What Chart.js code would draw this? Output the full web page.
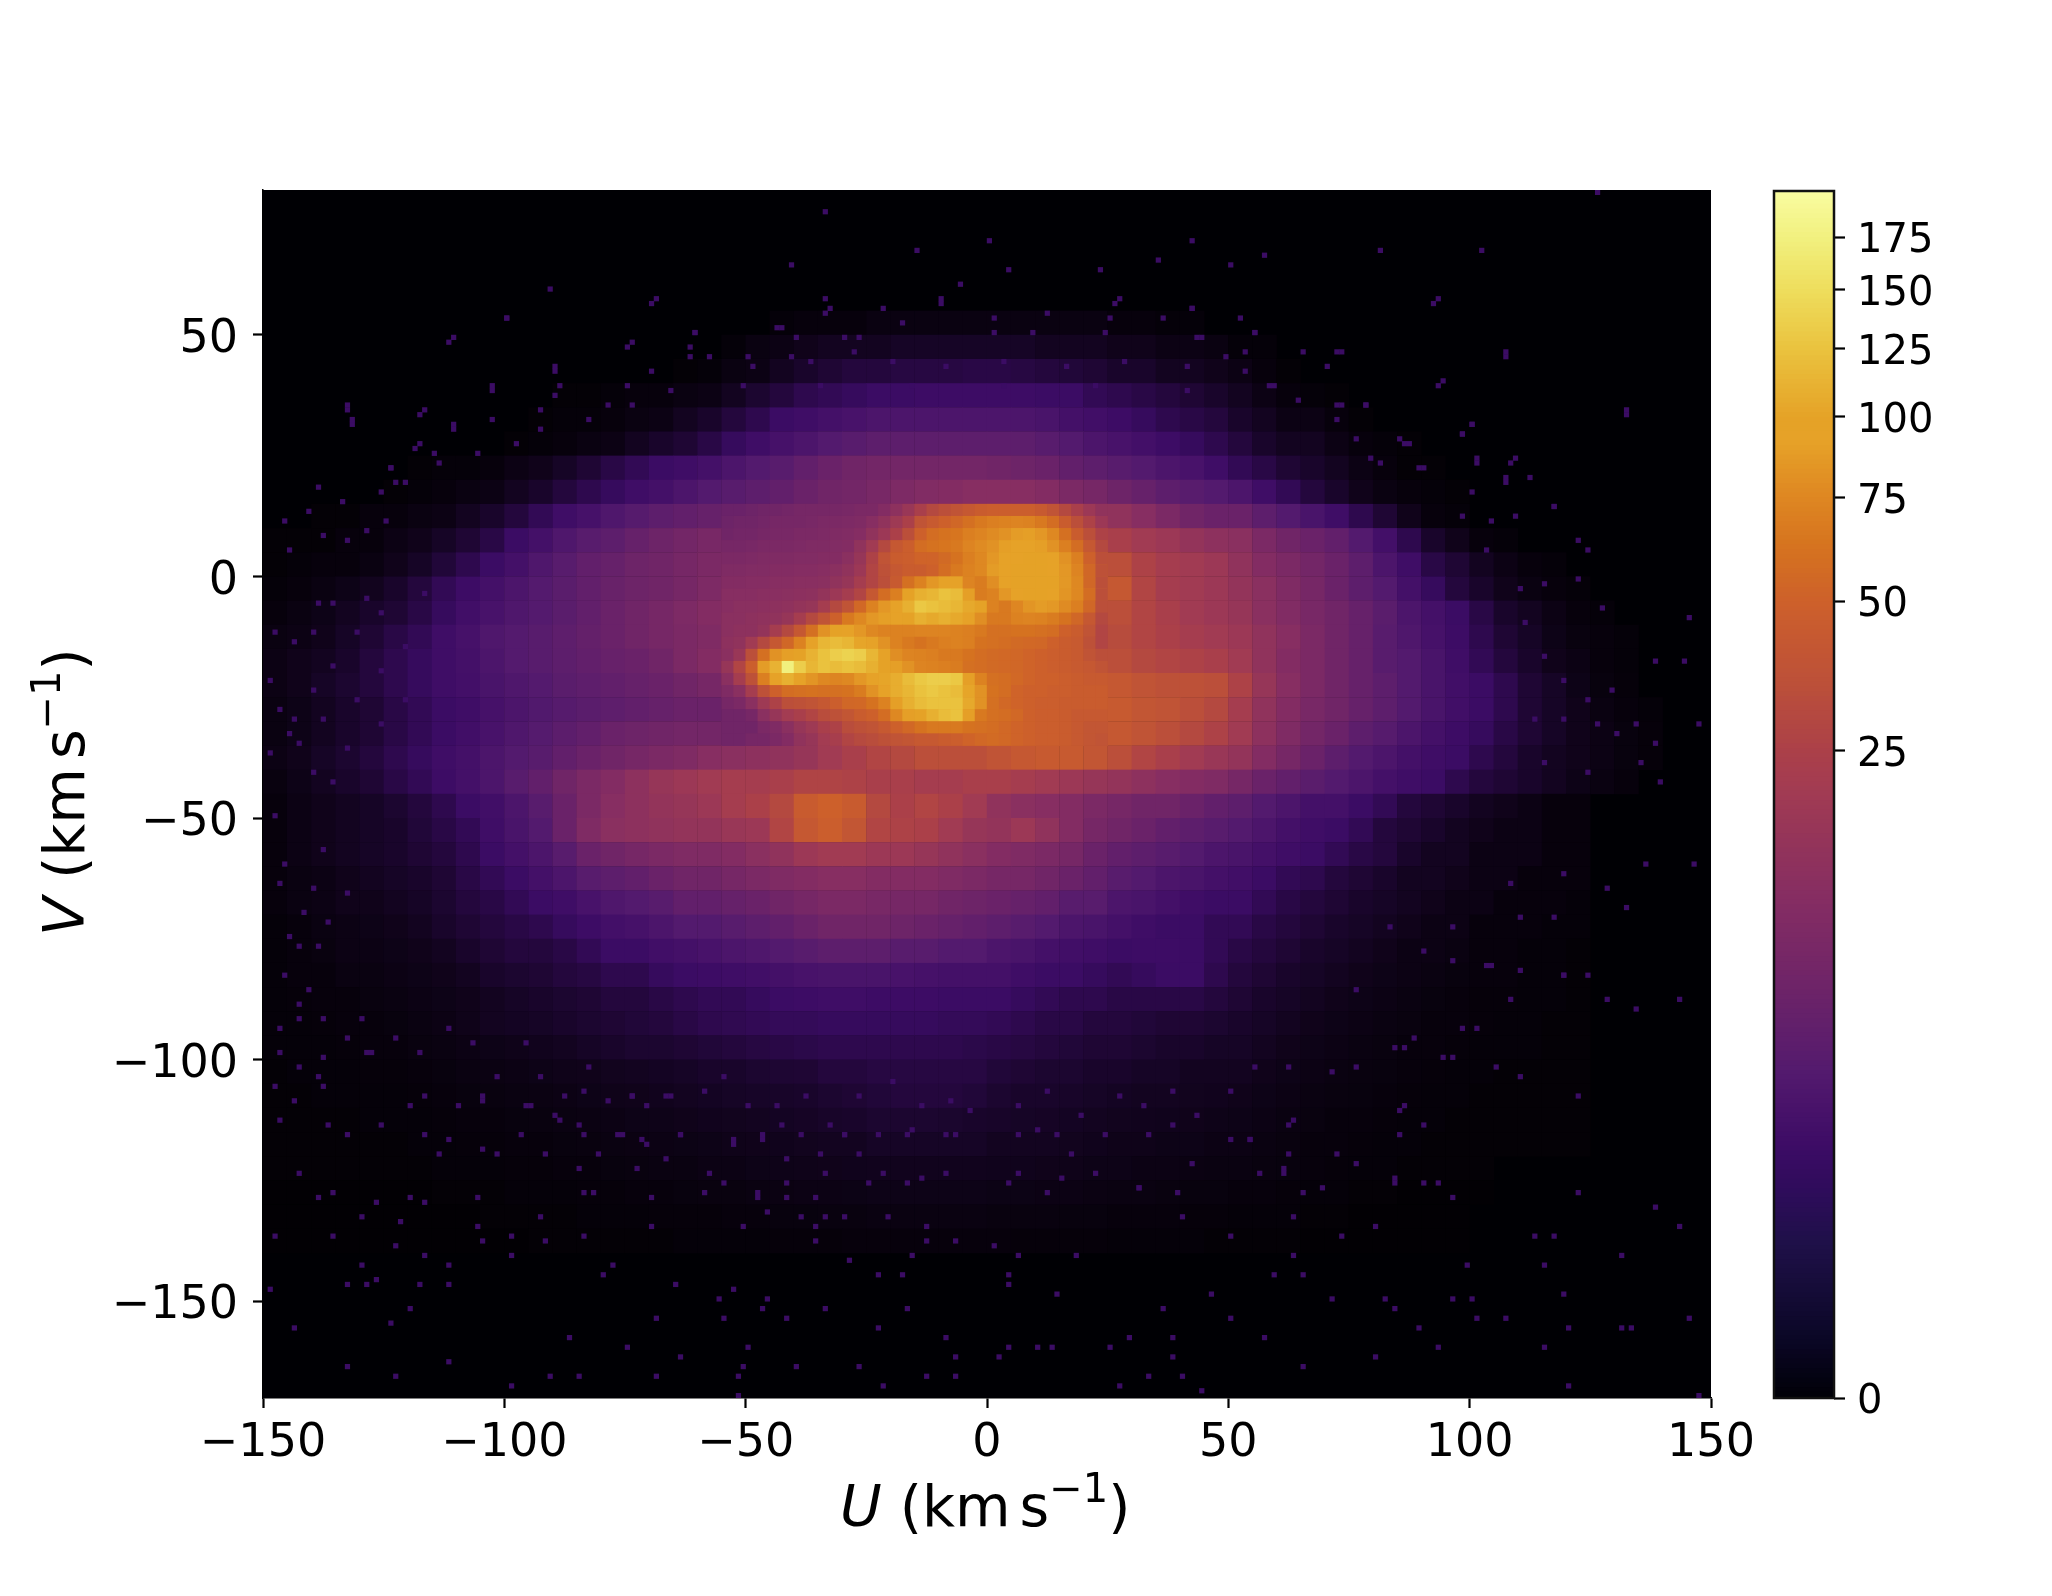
<!DOCTYPE html>
<html>
<head>
<meta charset="utf-8">
<script src="https://cdn.jsdelivr.net/npm/chart.js@4"></script>
<style>
  html, body { margin: 0; background: #fff; }
  canvas { position: absolute; left: 0; top: 0; }
</style>
</head>
<body>
<canvas id="uv-canvas" width="2052" height="1596"></canvas>
<canvas id="cb-canvas" width="2052" height="1596"></canvas>
<script>
// mean counts per 5 km/s bin, rows from V=77.5 downwards, columns from U=-147.5
const baseRows = [
  [], [], [], [], [],
  [0,0,0,0,0, 0,0,0,0,0, 0,0,0,0,0, 0,0,0,0,0, 0,.03,.05,.05,.05, .08,.08,.08,.08,.08, .08,.08,.08,.08,.08, .05,.05,.03,.03,0],
  [0,0,0,0,0, 0,0,0,0,0, 0,0,0,0,0, 0,0,0,0,.03, .08,.1,.15,.2,.2, .2,.25,.25,.25,.25, .25,.25,.2,.2,.2, .15,.15,.1,.1,.08, .03,.03,0,0,0],
  [0,0,0,0,0, 0,0,0,0,0, 0,0,0,0,0, 0,0,.02,.03,.08, .1,.2,.3,.4,.5, .5,.55,.55,.55,.6, .6,.55,.5,.45,.4, .3,.3,.2,.2,.15, .1,.05,.02,0,0],
  [0,0,0,0,0, 0,0,0,0,0, 0,0,.02,.02,.03, .05,.05,.08,.1,.2, .35,.5,.7,.8,.9, 1,1,1.1,1.1,1.1, 1.1,1.1,1,1,.8, .7,.6,.5,.4,.3, .2,.1,.05,.03,.02],
  [0,0,0,0,0, 0,0,0,0,0, 0,.02,.03,.03,.05, .08,.1,.2,.3,.5, .7,1,1.2,1.5,1.7, 2,2,2,2,2, 2,2,1.8,1.5,1.3, 1.1,.9,.7,.6,.5, .3,.2,.1,.1,.05, .02,0,0,0,0],
  [0,0,0,0,0, 0,0,0,0,0, .02,.03,.05,.08,.1, .2,.3,.4,.6,.9, 1.2,1.6,2,2.5,3, 3.5,3.5,3.5,3.5,3.5, 3.5,3.5,3,2.5,2, 1.7,1.4,1.1,.9,.7, .5,.3,.2,.2,.1, .05,.03,.02,0,0],
  [0,0,0,0,0, 0,.02,.03,.03,.05, .1,.15,.25,.4,.6, .8,1,1.2,1.5,2, 2.5,3,4,5,6, 6.5,6.5,6.5,6.5,6.5, 6,5.5,5,4,3.5, 3,2.5,2,1.7,1.2, .8,.6,.4,.3,.2, .1,.05,.02,.02,0],
  [0,0,0,0,0, .02,.03,.05,.08,.1, .2,.3,.5,.7,.9, 1.2,1.5,2,2.5,3, 3.5,4,5,6,6.5, 7.5,8.5,9.5,10,11, 11,11,10,8,7, 5.5,4.5,3.5,3,2.5, 2,1.2,.8,.5,.3, .15,.08,.05,.03,.02],
  [0,0,.02,.02,.05, .05,.08,.1,.2,.3, .5,.8,1.2,1.6,2.2, 2.8,3.5,4,4.5,5, 5.5,6,6.5,7,7.5, 12,16,24,30,36, 42,36,30,22,16, 14,11,8,6,5, 5,3.5,2.5,1.8,1.2, .7,.4,.15,.05,.03],
  [.02,.02,.02,.05,.05, .1,.15,.25,.4,.6, 1,1.5,2.2,3,3.5, 4.5,5.5,6.5,7.5,8.5, 9,10,11,13,15, 18,30,45,60,70, 80,85,85,60,42, 24,20,18,15,13, 12,8,6,5,4, 2.5,1.4,.7,.3,.15, .05,.03],
  [.02,.03,.05,.05,.08, .15,.25,.45,.7,1, 1.5,2.2,3,4,4.5, 5.5,6,7,8,9, 10,11,12,14,18, 34,46,60,70,75, 95,100,105,95,70, 34,26,22,20,18, 14,10,8,6.5,5, 3.5,2,1.2,.6,.4, .2,.1,.05,.03,0],
  [.03,.05,.08,.12,.18, .3,.5,.8,1.1,1.5, 2,2.6,3.2,4,4.8, 5.5,6,7,8.5,10, 11,12,14,18,26, 48,85,95,90,70, 80,95,105,100,85, 42,28,22,20,18, 15,12,9,7,5, 3.5,2.5,1.5,.9,.5, .3,.15,.08,.05,.03],
  [.05,.08,.12,.2,.3, .4,.6,.9,1.3,1.7, 2.2,2.6,3.2,4,5, 6,7,8.5,10,11, 13,15,20,32,48, 70,90,110,115,105, 80,75,75,60,45, 34,28,24,20,18, 16,12,9.5,7.5,6, 4.5,3.2,2,1.5,1, .6,.3,.2,.1,.05, .03],
  [.08,.1,.15,.25,.4, .6,.8,1.2,1.6,2.2, 2.6,3,3.6,4.2,5, 6,7,8,9,12, 16,24,45,80,85, 75,70,75,80,70, 65,60,58,48,40, 32,28,25,22,20, 18,14,11,8,6, 4.5,3,2.2,1.6,1.1, .7,.4,.25,.12,.07, .05,.03],
  [.1,.15,.2,.3,.5, .7,.9,1.2,1.5,2, 2.6,3,3.5,4,4.6, 5,6,8,10,14, 40,100,115,125,130, 110,80,72,68,68, 60,58,52,46,40, 34,30,28,26,24, 20,14,10,8,6, 4.5,3,2.5,1.8,1.2, .8,.5,.3,.15,.1, .05,.03],
  [.1,.15,.25,.35,.5, .7,.9,1.2,1.4,1.8, 2.2,2.6,3.2,3.6,4, 4.5,5,6,7,10, 25,70,65,55,55, 70,100,120,125,110, 60,56,52,48,46, 42,38,36,36,34, 26,16,11,8,6, 4.5,3.5,2.5,1.8,1.3, 1,.7,.4,.25,.12, .06,.04],
  [.08,.12,.2,.3,.4, .6,.8,1,1.2,1.6, 2,2.4,2.8,3.2,3.6, 4,4.5,5,5,5, 6,10,20,30,40, 55,80,105,100,70, 58,54,50,48,46, 44,40,38,34,30, 22,14,10,7.5,6, 4.5,3.5,2.5,1.8,1.3, 1,.7,.4,.25,.15, .08,.05,.03],
  [.08,.12,.2,.3,.4, .6,.8,1,1.3,1.7, 2.2,2.7,3.4,4,5, 5.5,6,6.5,6.5,6.5, 6.5,7,12,20,28, 34,40,50,50,50, 50,52,50,46,44, 42,38,34,30,26, 20,13,9,6.5,5, 3.5,2.8,2,1.5,1.1, .9,.6,.4,.25,.15, .1,.06,.04],
  [.1,.15,.25,.35,.5, .7,.9,1.2,1.5,2, 2.5,3,4,5,6, 7,8,9,11,12, 13,14,16,20,24, 28,30,34,34,34, 38,42,44,44,40, 34,28,24,20,17, 15,10,7,5,3.5, 2.5,2,1.5,1.2,1, .7,.5,.3,.2,.15, .1,.06,.04],
  [.07,.12,.2,.3,.4, .6,.8,1.1,1.5,2, 3,4,6,8,10, 13,16,18,20,22, 22,24,27,27,26, 24,24,22,22,24, 24,22,20,18,16, 15,13,11,10,9, 7,5,4,3.2,2.5, 2,1.5,1.2,1,.7, .5,.4,.3,.2,.12, .08,.05],
  [.05,.1,.15,.2,.25, .35,.5,.7,1,1.3, 2,3,5,8,11, 13,15,16,18,22, 25,30,45,50,45, 30,25,28,25,20, 14,12,11,10,8, 7,6,6,5,4, 3.5,2.5,2,1.5,1.5, 1,.8,.5,.4,.3, .2,.15,.1,.05,.05],
  [.05,.1,.15,.2,.25, .3,.45,.6,.8,1.2, 1.8,2.5,5,9,12, 13,14,15,15,17, 18,28,42,48,40, 28,26,25,20,16, 15,18,14,10,7, 6,5,4,3.5,3, 2.5,2,1.5,1.2,1, .8,.5,.4,.3,.2, .15,.1,.1,.05,.05],
  [.05,.1,.15,.2,.25, .3,.4,.5,.7,1, 1.5,2,3,5,6, 7,8,9,9,10, 12,14,18,20,20, 18,18,16,14,12, 10,9,8,7,5, 4,3.5,3,2.5,2, 1.8,1.5,1.2,1,.8, .6,.5,.3,.2,.2, .1,.1,.1,.05,.05],
  [.05,.08,.1,.15,.2, .25,.3,.4,.6,.8, 1,1.5,2,3,3.5, 4,5,6,6,7, 8,9,10,11,11, 10,10,10,9,8, 7,7,6,5,4, 3,2.5,2,1.8,1.5, 1.3,1,.8,.7,.5, .4,.3,.2,.2,.15, .1,.1,.05,.05,.05],
  [.05,.08,.1,.15,.15, .2,.25,.35,.5,.6, .8,1,1.2,1.7,2.2, 2.5,3,4,4,4.5, 5,6,7,8,8, 7.5,7,7,6,5.5, 5,4.5,4,3,3, 2,1.8,1.5,1.2,1, 1,.8,.6,.5,.4, .3,.25,.2,.15,.1, .1,.05,.05,.05,.03],
  [.03,.05,.08,.1,.12, .15,.2,.3,.4,.5, .6,.7,.9,1.1,1.4, 1.6,2,2.5,2.5,3, 3.5,4,5,6,6, 6,5.5,5,4.5,4, 3.5,3,2.5,2,1.8, 1.5,1.2,1,1,.8, .8,.6,.5,.4,.3, .25,.2,.15,.1,.1, .05,.05,.05,.03,.03],
  [.03,.05,.07,.1,.1, .12,.15,.2,.3,.4, .5,.5,.6,.8,1, 1,1.3,1.5,1.7,2, 2.2,2.5,3,3.5,3.5, 3.5,3,3,2.5,2.5, 2,1.8,1.5,1.3,1.2, 1,1.1,1.1,1,.8, .6,.5,.4,.3,.25, .2,.15,.1,.1,.08, .05,.05,.03,.03,.02],
  [.03,.05,.05,.08,.08, .1,.12,.15,.2,.3, .35,.4,.5,.55,.7, .7,.9,1,1.1,1.2, 1.3,1.5,1.7,1.8,1.8, 1.8,1.7,1.6,1.5,1.5, 1.5,1.2,1,1,.9, .8,.9,1,1,.7, .5,.4,.3,.25,.2, .15,.12,.1,.08,.06, .05,.05,.03,.03,.02],
  [.03,.04,.05,.05,.07, .08,.1,.12,.15,.2, .25,.3,.35,.4,.5, .5,.6,.7,.8,.8, .9,1,1.1,1.2,1.2, 1.1,1.1,1.1,1,1, 1,.9,.8,.7,.7, .6,.6,.6,.6,.5, .4,.3,.25,.2,.15, .12,.1,.08,.06,.05, .04,.04,.03,.03,.02],
  [.03,.03,.04,.05,.05, .06,.08,.1,.14,.2, .22,.25,.3,.35,.4, .45,.5,.6,.7,.75, .8,.85,.85,.9,.9, .9,.9,.9,.85,.85, .8,.7,.6,.6,.5, .5,.45,.4,.4,.35, .3,.25,.2,.15,.12, .1,.08,.07,.05,.05, .04,.03,.03,.02,.02],
  [.03,.03,.03,.04,.05, .05,.07,.08,.1,.12, .14,.17,.2,.25,.3, .35,.35,.4,.45,.5, .55,.6,.65,.7,.7, .7,.7,.7,.7,.65, .6,.55,.5,.45,.4, .4,.35,.3,.3,.25, .25,.2,.15,.12,.1, .08,.07,.05,.05,.04, .03,.03,.03,.02,.02],
  [.02,.03,.03,.03,.04, .04,.05,.06,.08,.09, .1,.12,.14,.15,.18, .2,.22,.25,.3,.3, .35,.38,.4,.5,.5, .55,.55,.55,.55,.55, .45,.4,.35,.35,.3, .3,.25,.25,.2,.2, .2,.15,.12,.1,.08, .07,.06,.05,.04,.03, .03,.02,.02,.02,.02],
  [.02,.02,.03,.03,.03, .03,.04,.05,.06,.07, .08,.09,.1,.12,.14, .15,.17,.2,.22,.25, .27,.28,.3,.35,.4, .45,.5,.5,.5,.45, .35,.3,.3,.28,.25, .22,.2,.2,.18,.17, .15,.12,.1,.08,.07, .06,.05,.04,.03,.03, .02,.02,.02,.02,.02],
  [.02,.02,.02,.02,.03, .03,.03,.04,.05,.05, .06,.07,.08,.09,.1, .12,.13,.15,.17,.18, .2,.22,.24,.28,.3, .35,.35,.35,.33,.3, .28,.25,.24,.22,.2, .18,.17,.16,.15,.13, .12,.1,.08,.07,.05, .05,.04,.03,.03,.02, .02,.02,.02,.02,.02],
  [.02,.02,.02,.02,.02, .02,.03,.03,.04,.04, .05,.05,.06,.07,.08, .09,.1,.11,.12,.14, .15,.16,.18,.2,.2, .25,.25,.25,.25,.25, .2,.2,.2,.18,.16, .14,.14,.12,.12,.1, .1,.08,.07,.05,.05, .04,.03,.03,.02,.02, .02,.02,.02,.02,.02],
  [.02,.02,.02,.02,.02, .02,.02,.03,.03,.03, .04,.04,.05,.05,.06, .07,.08,.08,.1,.1, .12,.13,.14,.15,.16, .17,.17,.17,.17,.17, .16,.16,.15,.14,.12, .12,.1,.1,.09,.08, .08,.07,.06,.05,.04, .03,.03,.02,.02,.02, .02],
  [.01,.01,.01,.01,.01, .01,.01,.02,.02,.02, .03,.03,.03,.04,.04, .05,.05,.06,.07,.07, .08,.09,.1,.1,.11, .12,.12,.12,.12,.12, .11,.11,.1,.1,.09, .08,.08,.07,.06,.06, .05,.05,.04,.03,.03, .02,.02,.01,.01,.01, .01],
  [.01,.01,.01,.01,.01, .01,.01,.01,.01,.02, .02,.02,.02,.03,.03, .03,.04,.04,.04,.05, .05,.06,.06,.07,.07, .08,.08,.08,.08,.08, .07,.07,.07,.06,.06, .05,.05,.05,.04,.04, .03,.03,.03,.02,.02, .01,.01,.01,.01,.01],
  [.01,.01,.01,.01,.01, .01,.01,.01,.01,.01, .01,.02,.02,.02,.02, .02,.02,.03,.03,.03, .03,.04,.04,.04,.05, .05,.05,.05,.05,.05, .05,.04,.04,.04,.04, .03,.03,.03,.03,.02, .02,.02,.02,.01,.01, .01,.01,.01,.01,.01]
];

// finer 2.5 km/s bins over the bright core, rows from V=13.75, columns from U=-53.75
const coreRows = [
  [5,5,5.5,6, 6,6.5,7,7, 7,7,7.5,8, 8,10,13,17, 24,30,34,38, 42,46,48,48, 48,48,44,38, 30,24,18,14],
  [5.5,6,6,6.5, 7,7,7,7.5, 8,8,8.5,9, 11,14,19,25, 38,44,50,54, 60,66,70,72, 74,72,66,58, 46,34,26,18],
  [6,6.5,6.5,7, 7.5,7.5,8,8, 8.5,9,9.5,10.5, 14,18,25,34, 50,58,62,64, 70,74,78,82, 88,90,85,76, 60,46,34,26],
  [7,7,7.5,8, 8,8,8.5,9, 9,9.5,10,14, 20,30,42,48, 58,62,64,66, 74,78,82,90, 92,94,90,82, 70,58,42,30],
  [8,8,8.5,9, 9,9,9.5,9.5, 10,10,12,16, 26,38,46,48, 52,52,56,62, 70,76,85,92, 95,98,96,92, 82,70,50,34],
  [9,9,9.5,9.5, 10,10,10.5,10.5, 11,12,14,18, 28,36,42,46, 46,50,58,66, 72,76,88,95, 96,100,98,95, 85,74,54,36],
  [10,10,10.5,10.5, 11,11,11.5,11.5, 12,14,16,22, 28,34,44,60, 72,85,95,95, 74,68,80,92, 96,100,100,96, 86,76,54,34],
  [11,11,11,11.5, 11.5,12,12.5,13, 15,18,22,28, 42,58,70,100, 110,115,125,120, 90,68,72,85, 92,98,98,94, 84,76,58,34],
  [11,12,12,12.5, 13,13.5,15,16, 22,30,38,55, 72,85,92,110, 130,125,120,115, 105,100,72,66, 75,84,88,86, 78,70,54,34],
  [12,12,13,13.5, 14,16,22,30, 38,50,66,76, 85,90,92,100, 110,105,110,105, 95,80,66,66, 72,74,72,68, 62,54,42,30],
  [12,13,13,15, 22,30,42,60, 82,98,92,85, 76,72,72,72, 74,74,74,72, 70,66,60,60, 62,62,60,58, 50,46,38,28],
  [13,14,20,30, 42,54,72,95, 115,120,115,102, 92,82,72,66, 62,66,70,72, 70,62,60,58, 56,55,54,50, 46,44,36,28],
  [12,17,34,60, 82,90,100,112, 125,135,140,135, 115,92,80,74, 72,70,66,66, 62,58,56,55, 54,52,50,48, 46,44,38,34],
  [16,28,48,88, 112,175,135,115, 125,120,125,120, 110,98,90,82, 74,72,70,68, 60,58,56,55, 54,52,50,48, 46,44,42,38],
  [12,22,36,70, 92,110,92,84, 76,74,76,85, 95,102,108,120, 130,135,135,130, 90,72,60,58, 55,52,50,50, 48,46,44,44],
  [9,12,22,36, 50,58,60,62, 60,60,62,68, 82,95,108,115, 125,130,125,120, 102,82,62,58, 52,50,50,48, 48,46,46,46],
  [7,8,12,19, 26,34,36,38, 42,48,54,55, 62,72,90,110, 120,125,125,125, 105,82,60,55, 52,50,48,48, 46,46,46,46],
  [6,6,7,12, 16,21,24,28, 33,36,40,46, 50,58,76,90, 96,110,120,125, 90,66,60,58, 55,50,48,48, 46,43,43,43],
  [6,6,6,8, 9,12,16,19, 24,26,33,36, 38,43,50,55, 62,66,66,66, 62,60,58,55, 52,50,48,48, 46,43,40,40],
  [6,6,7,7, 8,10,14,16, 21,23,28,31, 33,36,38,40, 43,43,46,48, 52,55,57,55, 52,50,48,48, 46,43,40,38]
];

// single occupied 1 km/s bins in the sparse outskirts (lower edges of the bins)
const speckU = [126,-34,0,42,-15,81,102,57,35,-41,50,4,23,-6,-91,-70,-34,-10,26,92,-100,-112,-75,-22,42,12,-34,36,1,-44,107,93,-90,-103,-133,-132,-118,132,100,-111,-119,98,108,101,112,-139,107,100,117,
  -143,-136,-120,-117,-139,-127,-106,-130,-122,-106,-93,-84,-82,-99,-105,-136,-148,-84,-92,-117,-99,-123,-130,-112,-78,-80,-133,-129,-127,-149,-118,-112,-65,-53,-56,-46,-120,-34,-47,-17,-42,-69,-55,-124,-144,-87,-75,-50,-23,-9,-64,-7,-51,-40,-27,-85,-69,-52,-13,-7,-99,-52,-22,-112,-133,-123,-91,-70,-51,-59,-70,-42,-48,-36,-46,-39,-34,-21,-13,-36,-30,-18,-23,-16,-29,-7,-13,-36,
  1,6,18,4,4,14,36,50,57,71,96,100,84,101,107,120,131,133,145,89,4,10,13,25,29,38,2,38,65,33,40,80,93,115,120,147,27,44,113,117,131,143,122,138,96,93,84,90,115,119,99,59,65,46,82,73,50,63,80,40,31,63,69,61,
  132,107,94,93,109,101,90,107,98,109,104,122,124,103,122,145,111,127,138,144,147,138,130,135,117,115,110,100,98,86,78,73,73,52,55,42,27,25,44,
  -111,-100,-90,-103,-132,-117,-133,-111,-124,-141,-146,-145,-133,-138,-148,-144,-149,-147,-149,-145,-143,-139,-136,-129,-125,-74,-62,-43,-69,-33,-18,-10,-61,-90,-75,
  -147,-137,-133,-126,-117,-112,-105,-120,-105,-114,-102,-97,-92,-85,-81,-73,-67,-58,-53,-47,-42,-35,-27,-22,-14,-17,-25,-34,-42,-48,-55,-9,-7,-16,-30,-43,-64,-71,-76,-84,-95,-89,-84,-74,-67,-147,
  10,17,22,31,15,12,6,4,39,42,50,54,62,72,76,84,90,85,96,105,110,122,128,124,119,104,110,117,128,132,136,146,119,108,96,83,90,76,134,143,98,86,63,65,61,56,
  -148,-138,-146,-147,-140,-133,-142,-137,-145,-143,-139,-146,-141,-143,-143,-147,-138,-133,-138,-143,-148,-144,-139,-138,-128,-130,
  -61,-40,-30,-27,1,9,24,43,55,65,72,-70,-62,-50,-41,-28,49,53,59,70,78,72,85,81,89,-103,-118,-124,-115,-123,-134,-126,-89,-79,-93,87,
  -129,-123,-118,-112,-107,-102,-96,-93,-88,-83,-79,-74,-71,-66,-59,-55,-50,-44,-38,-33,-27,-20,-14,-8,-4,-117,-110,-105,-96,-90,-85,-77,-72,-64,-53,-47,-39,-30,-23,-17,-9,
  6,12,19,27,32,38,43,50,55,62,71,76,84,88,94,6,14,24,33,38,54,62,86,85,108,101,103,96,110,119,
  -58,-49,-37,-20,-9,3,16,28,41,53,58,64,72,-66,-74,-83,-93,-98,-106,-114,-121,76,79,-51,-35,-16,3,22,41,
  -140,-131,-121,-136,-126,-140,-131,-121,-138,-126,-144,-133,-140,-136,-129,-126,-117,
  115,119,124,113,119,129,126,134,115,124,139];
const speckV = [79,75,69,69,67,67,67,66,65,64,64,63,63,60,59,56,57,56,56,56,53,48,47,55,55,54,54,53,53,51,45,39,42,38,34,31,33,33,31,30,26,29,23,23,20,18,19,17,14,
  -124,-128,-129,-130,-129,-130,-129,-133,-134,-135,-133,-128,-128,-137,-138,-137,-137,-137,-138,-141,-141,-139,-143,-143,-143,-145,-147,-147,-146,-148,-147,-147,-147,-148,-150,-150,-152,-152,-152,-152,-154,-154,-154,-155,-156,-158,-160,-160,-156,-158,-162,-162,-164,-164,-164,-166,-166,-166,-166,-166,-168,-170,-168,-163,-164,-166,-166,-135,-135,-128,-129,-129,-129,-129,-132,-133,-133,-133,-135,-135,-133,-145,-145,-141,-142,-138,-138,-138,
  -139,-141,-141,-145,-147,-149,-152,-154,-158,-150,-150,-150,-152,-154,-154,-156,-156,-156,-154,-156,-160,-160,-160,-160,-158,-158,-162,-162,-164,-166,-166,-162,-160,-160,-168,-170,-168,-169,-137,-137,-141,-135,-128,-131,-129,-126,-126,-126,-143,-149,-143,-145,-145,-149,-150,-137,-137,-141,-135,-133,-127,-133,-127,-123,
  34,46,40,57,24,24,22,20,12,12,11,7,5,5,-1,-9,-10,-7,-18,-18,-31,-35,-33,-39,14,-2,-3,31,29,27,35,35,46,53,50,55,57,53,49,
  49,53,43,39,32,34,35,31,22,13,11,5,7,8,-12,-14,-22,-28,-37,-33,-35,-6,-6,9,11,48,47,51,57,55,52,57,50,37,39,
  -113,-114,-116,-114,-116,-117,-109,-110,-119,-120,-120,-116,-120,-123,-120,-123,-121,-124,-117,-117,-121,-120,-120,-124,-125,-126,-126,-124,-126,-128,-126,-124,-116,-115,-116,-114,-116,-118,-116,-116,-110,-113,-107,-108,-108,-99,
  -115,-120,-124,-127,-125,-128,-124,-126,-128,-122,-117,-117,-120,-120,-122,-125,-114,-111,-100,-102,-104,-108,-88,-83,-83,-81,-71,-71,-65,-69,-60,-60,-62,-64,-73,-73,-78,-86,-90,-88,-94,-98,-113,-128,-124,-124,
  -50,-57,-60,-64,-65,-66,-70,-72,-75,-77,-77,-83,-86,-89,-92,-94,-92,-96,-100,-102,-106,-109,-104,-106,-99,-92,
  50,49,49,49,50,50,50,49,50,46,46,42,45,45,45,46,45,46,39,43,35,35,28,23,22,32,27,22,25,19,15,17,39,35,34,27,
  -99,-96,-99,-94,-97,-104,-97,-104,-108,-102,-109,-108,-110,-108,-107,-104,-110,-110,-108,-114,-108,-105,-110,-109,-111,-108,-110,-108,-110,-112,-114,-116,-117,-116,-118,-116,-116,-116,-116,-116,-116,
  -110,-107,-112,-108,-110,-107,-112,-107,-102,-102,-103,-102,-98,-96,-100,-116,-116,-116,-116,-114,-117,-114,-110,-116,-88,-94,-81,-80,-82,-83,
  45,43,44,44,43,44,43,44,43,42,39,36,32,38,35,32,30,27,25,23,19,28,24,39,39,39,39,39,38,
  -12,-12,-15,-19,-20,-24,-26,-26,-30,-31,-30,-36,-41,-43,-5,-8,-4,
  -17,-22,-26,-30,-30,-24,-31,-31,-39,-41,-43];

const uTicks = [-150, -100, -50, 0, 50, 100, 150];
const vTicks = [-150, -100, -50, 0, 50];
const cbTicks = [0, 25, 50, 75, 100, 125, 150, 175];
const vmax = 199.5, gamma = 0.3;

// colour bar as seen in the picture: [norm, r, g, b]
const cmap = [
  [0, 0, 0, 6], [.05, 11, 7, 38], [.1275, 30, 16, 72], [.175, 47, 12, 92], [.213, 62, 12, 102],
  [.27, 83, 26, 110], [.342, 110, 36, 104], [.413, 133, 45, 99], [.46, 147, 52, 90], [.508, 163, 60, 82],
  [.536, 171, 64, 73], [.593, 188, 80, 57], [.66, 205, 96, 43], [.708, 214, 116, 31], [.746, 222, 134, 34],
  [.793, 230, 162, 40], [.812, 229, 162, 39], [.869, 234, 194, 62], [.918, 238, 221, 92], [.961, 241, 240, 126], [1, 249, 252, 160]
];

function normOf(v) { return Math.pow(Math.min(v, vmax) / vmax, gamma); }

function colourAt(n) {
  let i = 1;
  while (i < cmap.length - 1 && cmap[i][0] < n) i++;
  const a = cmap[i - 1], b = cmap[i], t = Math.max(0, Math.min(1, (n - a[0]) / (b[0] - a[0])));
  return [1, 2, 3].map(k => a[k] + (b[k] - a[k]) * t);
}

// below one count a bin is a mix of empty and occupied cells
function colourOf(v) {
  let c = colourAt(normOf(Math.max(v, 1)));
  if (v < 1) c = c.map(x => x * Math.pow(v, 0.7));
  return 'rgb(' + c.map(Math.round).join(',') + ')';
}

function toCells(rows, u0, v0, step) {
  const cells = [];
  rows.forEach((row, j) => row.forEach((val, i) => {
    if (val > 0) cells.push({ x: u0 + i * step, y: v0 - j * step, v: val });
  }));
  return cells;
}

const speckCells = speckU.map((u, i) => ({ x: u + 0.5, y: speckV[i] + 0.5, v: 1 }));

function cellDataset(label, data, step, order) {
  return {
    label, data, order,
    showLine: false,
    pointStyle: 'rect',
    pointBorderWidth: 0,
    pointBackgroundColor: ctx => ctx.raw ? colourOf(ctx.raw.v) : '#000',
    // a rect point has side radius*sqrt(2)
    pointRadius: ctx => {
      const x = ctx.chart.scales.x;
      return (Math.abs(x.getPixelForValue(step) - x.getPixelForValue(0)) + 0.4) / (2 * Math.SQRT1_2);
    }
  };
}

const sans = 'DejaVu Sans';
const minus = v => String(v).replace('-', '\u2212');

function drawRuns(ctx, runs) {
  let x = 0;
  runs.forEach(r => {
    ctx.font = (r.italic ? 'italic ' : '') + r.size + 'px "' + sans + '"';
    ctx.fillText(r.text, x + (r.dx || 0), r.dy || 0);
    x += ctx.measureText(r.text).width + (r.dx || 0);
  });
}

function unitRuns(letter) {
  return [
    { text: letter, italic: true, size: 57 },
    { text: ' (km', size: 57 },
    { text: 's', size: 57, dx: 9 },
    { text: '\u22121', size: 40, dy: -24 },
    { text: ')', size: 57 }
  ];
}

const plotBackground = {
  id: 'plotBackground',
  beforeDatasetsDraw(chart) {
    const a = chart.chartArea, ctx = chart.ctx;
    ctx.save();
    ctx.fillStyle = '#000004';
    ctx.fillRect(a.left, a.top, a.right - a.left, a.bottom - a.top);
    ctx.restore();
  }
};

const axisLabels = {
  id: 'axisLabels',
  afterDraw(chart) {
    const ctx = chart.ctx;
    ctx.save();
    ctx.fillStyle = '#000';
    ctx.textAlign = 'left';
    ctx.textBaseline = 'alphabetic';
    ctx.save();
    ctx.translate(840, 1526);
    drawRuns(ctx, unitRuns('U'));
    ctx.restore();
    ctx.translate(84, 936);
    ctx.rotate(-Math.PI / 2);
    drawRuns(ctx, unitRuns('V'));
    ctx.restore();
  }
};

new Chart(document.getElementById('uv-canvas').getContext('2d'), {
  type: 'scatter',
  data: {
    datasets: [
      cellDataset('speckle', speckCells, 1, 1),
      cellDataset('core', toCells(coreRows, -53.75, 13.75, 2.5), 2.5, 2),
      cellDataset('counts', toCells(baseRows, -147.5, 77.5, 5), 5, 3)
    ]
  },
  options: {
    responsive: false,
    animation: false,
    events: [],
    layout: { padding: { left: 0, top: 190, right: 341, bottom: 0 } },
    plugins: {
      legend: { display: false },
      tooltip: { enabled: false },
      title: { display: false }
    },
    scales: {
      x: {
        type: 'linear',
        min: -150,
        max: 150,
        afterFit: s => { s.height = 198; },
        afterBuildTicks: s => { s.ticks = uTicks.map(value => ({ value })); },
        border: { color: '#000', width: 1.5 },
        grid: { drawOnChartArea: false, color: '#000', tickColor: '#000', tickLength: 10, tickWidth: 2.2 },
        ticks: {
          color: '#000',
          padding: 8,
          maxRotation: 0,
          autoSkip: false,
          font: { family: sans, size: 46 },
          callback: minus
        }
      },
      y: {
        type: 'linear',
        min: -170,
        max: 80,
        afterFit: s => { s.width = 263; },
        afterBuildTicks: s => { s.ticks = vTicks.map(value => ({ value })); },
        border: { color: '#000', width: 1.5 },
        grid: { drawOnChartArea: false, color: '#000', tickColor: '#000', tickLength: 10, tickWidth: 2.2 },
        ticks: {
          color: '#000',
          padding: 15,
          labelOffset: 5,
          autoSkip: false,
          font: { family: sans, size: 46 },
          callback: minus
        }
      }
    }
  },
  plugins: [plotBackground, axisLabels]
});

// colour bar
const cbLevels = Array.from({ length: 256 }, (_, i) => i / 255);

const cbFrame = {
  id: 'cbFrame',
  afterDraw(chart) {
    const a = chart.chartArea, ctx = chart.ctx;
    ctx.save();
    ctx.strokeStyle = '#111';
    ctx.lineWidth = 2.5;
    ctx.strokeRect(a.left, a.top, a.right - a.left, a.bottom - a.top);
    ctx.restore();
  }
};

new Chart(document.getElementById('cb-canvas').getContext('2d'), {
  type: 'bar',
  data: {
    datasets: [{
      data: cbLevels.map(n => ({ x: 1, y: n })),
      backgroundColor: cbLevels.map(n => {
        const c = colourAt(n).map(Math.round);
        return 'rgb(' + c.join(',') + ')';
      }),
      barThickness: 6,
      borderWidth: 0
    }]
  },
  options: {
    indexAxis: 'y',
    responsive: false,
    animation: false,
    events: [],
    layout: { padding: { left: 1774, top: 191, right: 0, bottom: 198 } },
    plugins: {
      legend: { display: false },
      tooltip: { enabled: false }
    },
    scales: {
      x: { type: 'linear', min: 0, max: 1, display: false },
      y: {
        type: 'linear',
        position: 'right',
        min: 0,
        max: 1,
        offset: false,
        afterFit: s => { s.width = 218; },
        afterBuildTicks: s => { s.ticks = cbTicks.map(t => ({ value: normOf(t) })); },
        border: { display: false },
        grid: { offset: false, drawOnChartArea: false, color: '#000', tickColor: '#000', tickLength: 11, tickWidth: 2.2 },
        ticks: {
          color: '#000',
          padding: 12,
          labelOffset: 4.5,
          autoSkip: false,
          font: { family: sans, size: 40 },
          callback: (v, i) => String(cbTicks[i])
        }
      }
    }
  },
  plugins: [cbFrame]
});
</script>
</body>
</html>
